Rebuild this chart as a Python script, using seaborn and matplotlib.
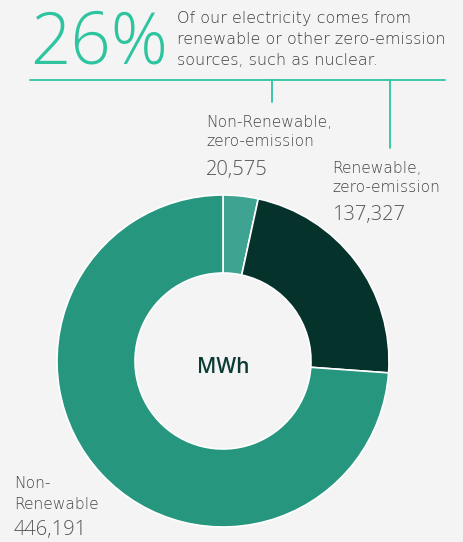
import matplotlib
matplotlib.use("Agg")
import matplotlib.pyplot as plt
import seaborn as sns

categories = ["Non-Renewable, zero-emission", "Renewable, zero-emission", "Non-Renewable"]
values = [20575, 137327, 446191]
colors = ["#3fa392", "#06322c", "#26967f"]
headline = "26%"
headline_lines = ["Of our electricity comes from",
                  "renewable or other zero-emission",
                  "sources, such as nuclear."]
label_lines = [["Non-Renewable,", "zero-emission"],
               ["Renewable,", "zero-emission"],
               ["Non-", "Renewable"]]

sns.set_theme(style="white")
plt.rcParams['font.family'] = ['Open Sans', 'DejaVu Sans']

W, H = 463, 542
fig = plt.figure(figsize=(W / 100, H / 100), dpi=100, facecolor="#f4f4f4")

def fx(x):
    return x / W

def fy(y):
    return 1 - y / H

# donut
cx, cy, r = 223, 361, 166
ax = fig.add_axes([fx(cx - r), fy(cy + r), 2 * r / W, 2 * r / H])
ax.set_facecolor("none")
ax.pie(values, colors=colors, startangle=90, counterclock=False, radius=1,
       wedgeprops=dict(width=0.47, edgecolor="white", linewidth=1.2))
ax.set_xlim(-1, 1)
ax.set_ylim(-1, 1)
ax.set_aspect("equal")
ax.axis("off")
ax.text(0, -0.04, "MWh", ha="center", va="center", fontsize=15, fontweight="semibold", color="#0b3b33")

# overlay axes for lines and texts (pixel coordinates, y downwards)
ov = fig.add_axes([0, 0, 1, 1])
ov.set_xlim(0, W)
ov.set_ylim(H, 0)
ov.axis("off")
ov.set_facecolor("none")
teal = "#2ec4a0"
ov.plot([30, 445], [80, 80], color=teal, lw=1.3)
ov.plot([272, 272], [80, 102], color=teal, lw=1.3)
ov.plot([390, 390], [80, 148], color=teal, lw=1.3)

ov.text(30, 63, headline, fontsize=51, color=teal, ha="left", va="baseline", fontweight="light")

txtfont = ['DejaVu Sans']
for line, yb in zip(headline_lines, [23, 44, 65]):
    ov.text(177, yb, line, fontsize=11.5, color="#3e3e3e", ha="left", va="baseline",
            fontweight="light", family=txtfont)

grey = "#444444"
label_pos = [(206, [127, 146, 175]), (332, [173, 192, 220]), (14, [488, 509, 535])]
for lines, val, (x, ys) in zip(label_lines, values, label_pos):
    for line, yb in zip(lines, ys[:2]):
        ov.text(x, yb, line, fontsize=11.2, color=grey, ha="left", va="baseline",
                fontweight="light", family=txtfont)
    ov.text(x, ys[2], f"{val:,}", fontsize=14.5, color="#555555", ha="left", va="baseline",
            fontweight="light")

fig.savefig("out.png", dpi=100, facecolor=fig.get_facecolor())
